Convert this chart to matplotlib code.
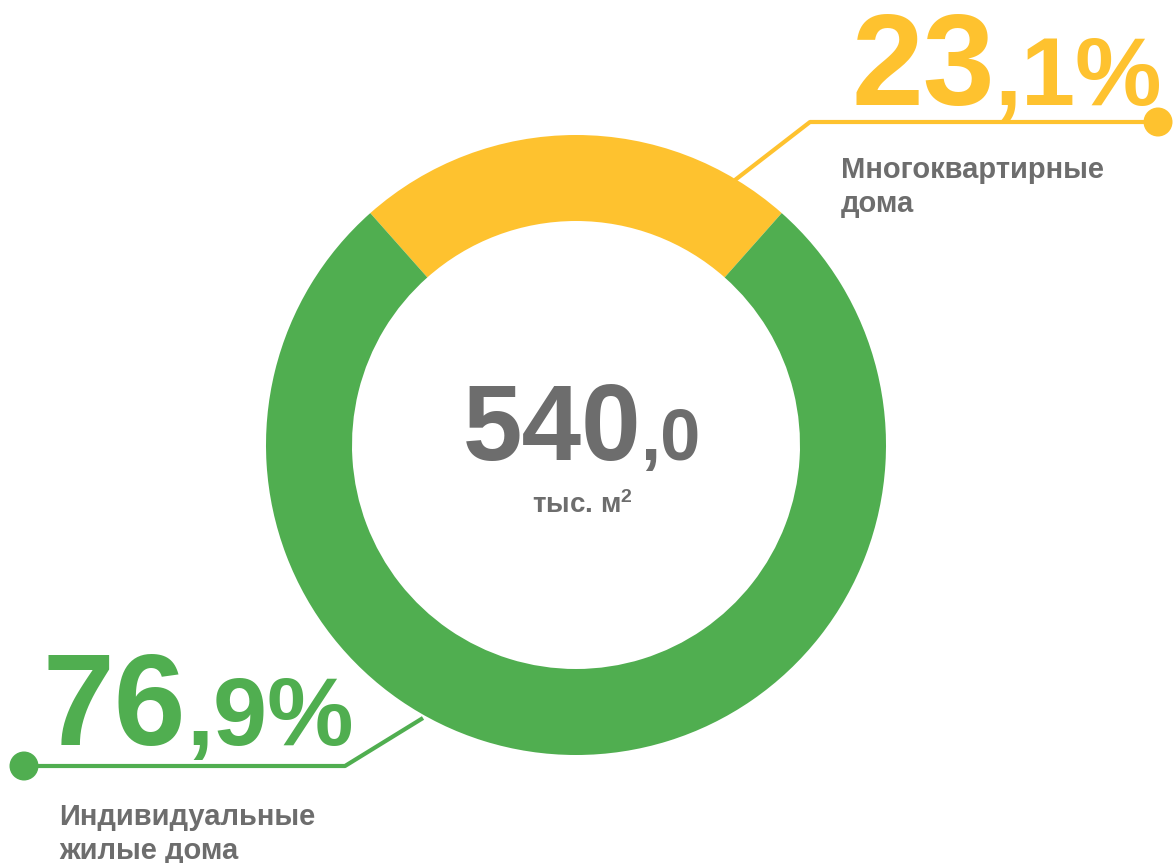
import matplotlib
matplotlib.use("Agg")
import matplotlib.pyplot as plt
from matplotlib.patches import Circle

W, H = 1173, 863

YELLOW = "#FEC22F"
GREEN = "#50AE50"
GRAY = "#6D6D6D"

categories = [["Многоквартирные", "дома"], ["Индивидуальные", "жилые дома"]]
shares = [23.1, 76.9]
share_big = ["23", "76"]
share_small = [",1%", ",9%"]
total_big = "540"
total_small = ",0"
total_unit = r"тыс. м$^{2}$"

plt.rcParams["font.family"] = ["Liberation Sans", "DejaVu Sans"]
plt.rcParams["font.weight"] = "bold"
plt.rcParams["mathtext.fontset"] = "custom"
plt.rcParams["mathtext.rm"] = "Liberation Sans:bold"
plt.rcParams["mathtext.it"] = "Liberation Sans:bold"
plt.rcParams["mathtext.bf"] = "Liberation Sans:bold"


def split_text(ax, x, y, big, small, size_big, size_small, color, align="left", gap=0):
    """Draw big+small text on a common baseline, starting at x (or centred)."""
    fig = ax.figure
    t1 = ax.text(x, y, big, fontsize=size_big, color=color, fontweight="bold",
                 ha="left", va="baseline")
    t2 = ax.text(x, y, small, fontsize=size_small, color=color, fontweight="bold",
                 ha="left", va="baseline")
    r = fig.canvas.get_renderer()
    inv = ax.transData.inverted()
    b1 = inv.transform(t1.get_window_extent(r))
    b2 = inv.transform(t2.get_window_extent(r))
    w1 = b1[1][0] - b1[0][0] + gap
    w2 = b2[1][0] - b2[0][0]
    if align == "center":
        x = x - (w1 + w2) / 2
    t1.set_x(x)
    t2.set_x(x + w1)


fig = plt.figure(figsize=(W / 100, H / 100), dpi=100)
ax = fig.add_axes([0, 0, 1, 1])

# donut, y axis is inverted so 270 deg points up on screen
half = shares[0] / 100 * 360 / 2
ax.pie(shares, colors=[YELLOW, GREEN], startangle=270 - half, counterclock=True,
       center=(576, 445), radius=310,
       wedgeprops=dict(width=86, linewidth=0))

ax.set_xlim(0, W)
ax.set_ylim(H, 0)
ax.set_aspect("equal")
ax.axis("off")

# leader lines
ax.plot([735, 810, 1158], [180, 122, 122], color=YELLOW, lw=3, solid_capstyle="butt")
ax.add_patch(Circle((1158, 122), 14.5, color=YELLOW, lw=0))
ax.plot([423, 345, 24], [718, 766, 766], color=GREEN, lw=3, solid_capstyle="butt")
ax.add_patch(Circle((24, 766), 14.5, color=GREEN, lw=0))

fig.canvas.draw()

split_text(ax, 851, 105, share_big[0], share_small[0], 93, 70, YELLOW, gap=0)
split_text(ax, 43, 745, share_big[1], share_small[1], 93, 70, GREEN, gap=0)
split_text(ax, 582, 460, total_big, total_small, 77, 52, GRAY, align="center", gap=-1)

ax.text(582, 513, total_unit, fontsize=20, color=GRAY, fontweight="bold",
        ha="center", va="baseline")

for x, y, lines in [(841, 178, categories[0]), (59, 825, categories[1])]:
    for i, s in enumerate(lines):
        ax.text(x, y + i * 34, s, fontsize=21, color=GRAY, fontweight="bold",
                ha="left", va="baseline")

fig.savefig("out.png", dpi=100)
